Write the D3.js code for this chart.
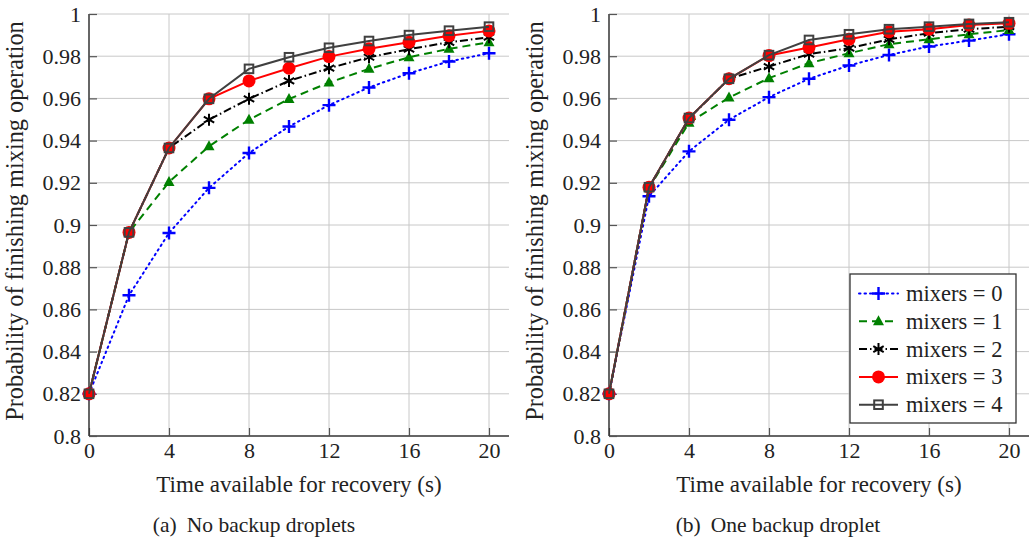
<!DOCTYPE html>
<html>
<head>
<meta charset="utf-8">
<script src="https://cdn.jsdelivr.net/npm/d3@7"></script>
<style>
  body { margin: 0; background: #fff; }
  svg text { font-family: "Liberation Serif", "Times New Roman", serif; fill: #222; }
</style>
</head>
<body>
<div id="chart"></div>
<script>
// Data
var times = [0, 2, 4, 6, 8, 10, 12, 14, 16, 18, 20];
var xTicks = [0, 4, 8, 12, 16, 20];
var yTicks = [0.8, 0.82, 0.84, 0.86, 0.88, 0.9, 0.92, 0.94, 0.96, 0.98, 1];
var yTickLabels = ["0.8", "0.82", "0.84", "0.86", "0.88", "0.9", "0.92", "0.94", "0.96", "0.98", "1"];
var seriesNames = ["mixers = 0", "mixers = 1", "mixers = 2", "mixers = 3", "mixers = 4"];

// (a) no backup droplets
var noBackup0 = [0.82, 0.8667, 0.8962, 0.9176, 0.9341, 0.9467, 0.9568, 0.9652, 0.9719, 0.9775, 0.9814];
var noBackup1 = [0.82, 0.8965, 0.9204, 0.9373, 0.9499, 0.9597, 0.9675, 0.9740, 0.9795, 0.9835, 0.9866];
var noBackup2 = [0.82, 0.8965, 0.9365, 0.9499, 0.9598, 0.9683, 0.9743, 0.9795, 0.9833, 0.9866, 0.9890];
var noBackup3 = [0.82, 0.8965, 0.9365, 0.9598, 0.9683, 0.9743, 0.9798, 0.9835, 0.9866, 0.9897, 0.9920];
var noBackup4 = [0.82, 0.8965, 0.9365, 0.9598, 0.9740, 0.9795, 0.9840, 0.9872, 0.9900, 0.9921, 0.9940];

// (b) one backup droplet
var oneBackup0 = [0.82, 0.9136, 0.9349, 0.9499, 0.9606, 0.9693, 0.9756, 0.9806, 0.9846, 0.9874, 0.9904];
var oneBackup1 = [0.82, 0.9175, 0.9485, 0.9604, 0.9696, 0.9767, 0.9814, 0.9857, 0.9880, 0.9904, 0.9924];
var oneBackup2 = [0.82, 0.9178, 0.9505, 0.9693, 0.9751, 0.9810, 0.9838, 0.9880, 0.9909, 0.9928, 0.9940];
var oneBackup3 = [0.82, 0.9179, 0.9507, 0.9693, 0.9803, 0.9841, 0.9880, 0.9916, 0.9928, 0.9948, 0.9956];
var oneBackup4 = [0.82, 0.9179, 0.9507, 0.9693, 0.9805, 0.9877, 0.9904, 0.9928, 0.9940, 0.9953, 0.9961];

// line / marker styles per series
var styles = [
  { color: "#0000ff", dash: "1.5,4", width: 2, mark: "plus" },
  { color: "#008000", dash: "8,5", width: 2, mark: "triangle" },
  { color: "#000000", dash: "8,3,1.5,3", width: 2, mark: "asterisk" },
  { color: "#ff0000", dash: null, width: 2, mark: "circle" },
  { color: "#404040", dash: null, width: 2, mark: "square" }
];

var serif = "'Liberation Serif', 'Times New Roman', serif";

var svgWidth = 1029;
var svgHeight = 547;

var svg = d3.select("#chart")
  .append("svg")
  .attr("width", svgWidth)
  .attr("height", svgHeight)
  .attr("font-family", serif)
  .style("background", "#fff");

function drawMark(g, mark, color) {
  if (mark === "plus") {
    g.append("path").attr("d", "M-6.5,0H6.5M0,-6.5V6.5")
      .attr("stroke", color).attr("stroke-width", 2.4).attr("fill", "none");
  } else if (mark === "triangle") {
    g.append("path").attr("d", "M0,-6L5.5,4H-5.5Z").attr("fill", color);
  } else if (mark === "asterisk") {
    var a = 6, c = a * Math.cos(Math.PI / 6), s = a * Math.sin(Math.PI / 6);
    g.append("path").attr("d", `M0,${-a}V${a}M${-c},${-s}L${c},${s}M${-c},${s}L${c},${-s}`)
      .attr("stroke", color).attr("stroke-width", 2).attr("fill", "none");
  } else if (mark === "circle") {
    g.append("circle").attr("r", 6.5).attr("fill", color);
  } else if (mark === "square") {
    g.append("rect").attr("x", -4.3).attr("y", -4.3).attr("width", 8.6).attr("height", 8.6)
      .attr("fill", "none").attr("stroke", color).attr("stroke-width", 2);
  }
}

function drawPanel(offsetX, series, caption) {
  var left = 89 + offsetX;
  var right = 509 + offsetX;
  var top = 14;
  var bottom = 436;

  var x = d3.scaleLinear().domain([0, 21]).range([left, right]);
  var y = d3.scaleLinear().domain([0.8, 1]).range([bottom, top]);

  var g = svg.append("g");

  // grid
  g.selectAll(".vgrid").data(xTicks.slice(1)).enter()
    .append("line")
    .attr("x1", d => x(d)).attr("x2", d => x(d))
    .attr("y1", top).attr("y2", bottom)
    .attr("stroke", "#c8c8c8").attr("stroke-width", 1);
  g.selectAll(".hgrid").data(yTicks.slice(1)).enter()
    .append("line")
    .attr("x1", left).attr("x2", right)
    .attr("y1", d => y(d)).attr("y2", d => y(d))
    .attr("stroke", "#c8c8c8").attr("stroke-width", 1);

  // axes (ticks point inward)
  var bottomAxis = d3.axisBottom(x).tickValues(xTicks).tickSize(-8).tickPadding(6).tickSizeOuter(0);
  var leftAxis = d3.axisLeft(y).tickValues(yTicks).tickSize(-8).tickPadding(8).tickSizeOuter(0)
    .tickFormat((d, i) => yTickLabels[i]);

  var xa = g.append("g").attr("transform", `translate(0, ${bottom})`).call(bottomAxis);
  var ya = g.append("g").attr("transform", `translate(${left}, 0)`).call(leftAxis);
  [xa, ya].forEach(function(a) {
    a.attr("font-family", serif).attr("font-size", 22);
    a.select(".domain").attr("stroke", "#333").attr("stroke-width", 1.5);
    a.selectAll(".tick line").attr("stroke", "#555").attr("stroke-width", 1.2);
    a.selectAll(".tick text").attr("font-size", 22).attr("fill", "#222");
  });
  xa.select(".domain").attr("d", `M${left},0H${right}`);
  ya.select(".domain").attr("d", `M0,${bottom}V${top}`);

  // line series
  var line = d3.line().x((d, i) => x(times[i])).y(d => y(d));
  series.forEach(function(vals, si) {
    var st = styles[si];
    g.append("path")
      .datum(vals)
      .attr("d", line)
      .attr("fill", "none")
      .attr("stroke", st.color)
      .attr("stroke-width", st.width)
      .attr("stroke-dasharray", st.dash)
      .attr("stroke-linecap", st.mark === "plus" ? "round" : "butt");
    g.selectAll(".m" + si).data(vals).enter()
      .append("g")
      .attr("transform", (d, i) => `translate(${x(times[i])}, ${y(d)})`)
      .each(function() { drawMark(d3.select(this), st.mark, st.color); });
  });

  // axis titles
  g.append("text")
    .attr("transform", `translate(${23 + offsetX}, 221) rotate(-90)`)
    .attr("text-anchor", "middle")
    .attr("font-size", 24.3)
    .text("Probability of finishing mixing operation");

  g.append("text")
    .attr("x", (x(0) + x(21)) / 2)
    .attr("y", 492)
    .attr("text-anchor", "middle")
    .attr("font-size", 23)
    .text("Time available for recovery (s)");

  // caption
  var cap = g.append("text")
    .attr("x", 254 + offsetX * 1.0077)
    .attr("y", 532)
    .attr("text-anchor", "middle")
    .attr("font-size", 21.5);
  cap.append("tspan").text(caption[0]);
  cap.append("tspan").attr("dx", 10).text(caption[1]);

  return { x: x, y: y };
}

drawPanel(0, [noBackup0, noBackup1, noBackup2, noBackup3, noBackup4], ["(a)", "No backup droplets"]);
drawPanel(520, [oneBackup0, oneBackup1, oneBackup2, oneBackup3, oneBackup4], ["(b)", "One backup droplet"]);

// legend (in right panel)
var legend = svg.append("g").attr("transform", "translate(850, 274)");
legend.append("rect")
  .attr("width", 166).attr("height", 149)
  .attr("fill", "#fff").attr("stroke", "#333").attr("stroke-width", 1.3);

seriesNames.forEach(function(name, i) {
  var st = styles[i];
  var row = legend.append("g").attr("transform", `translate(0, ${19.5 + i * 27.8})`);
  row.append("line")
    .attr("x1", 9).attr("x2", 48)
    .attr("stroke", st.color).attr("stroke-width", st.width)
    .attr("stroke-dasharray", st.dash)
    .attr("stroke-linecap", st.mark === "plus" ? "round" : "butt");
  drawMark(row.append("g").attr("transform", "translate(28.5, 0)"), st.mark, st.color);
  row.append("text")
    .attr("x", 56).attr("y", 7.5)
    .attr("font-size", 22.5)
    .text(name);
});
</script>
</body>
</html>
